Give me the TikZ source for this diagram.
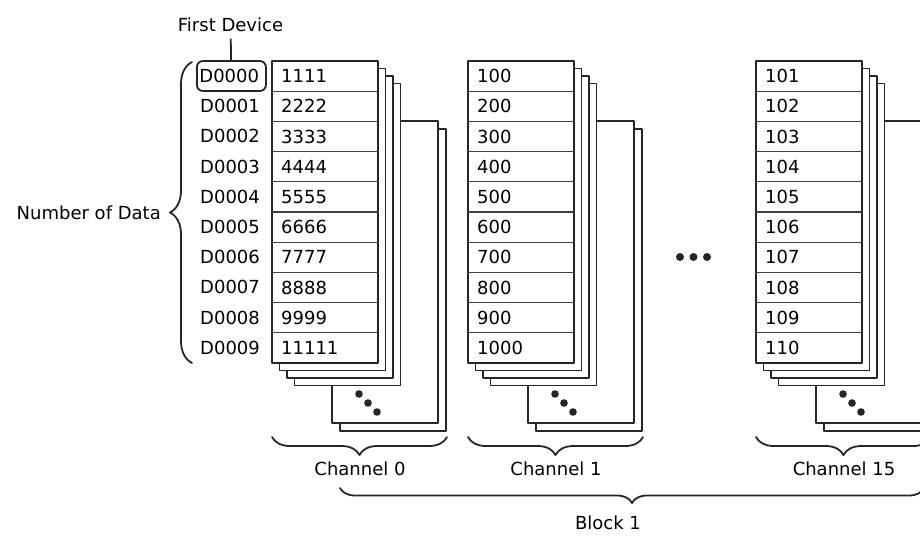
\documentclass[tikz,border=0pt]{standalone}
\usepackage{fontspec}
\setmainfont{DejaVu Sans}
\usetikzlibrary{decorations.pathreplacing}

\begin{document}
\begin{tikzpicture}[x=1pt, y=-1pt, line cap=round, line join=round,
  every node/.style={font=\fontsize{18}{21}\selectfont, inner sep=0pt},
  sheet/.style={draw=black!85, fill=white, line width=1.8pt},
  rowline/.style={draw=black!75, line width=1.1pt},
  devbox/.style={draw=black!85, line width=1.8pt, rounded corners=6pt, minimum height=30pt, text width=64pt, inner xsep=2.5pt},
  lead/.style={draw=black!85, line width=1.8pt},
  curly/.style={draw=black!85, line width=1.8pt, decorate, decoration={brace, amplitude=#1}}]
  \clip (0,0) rectangle (920,535);

  % three channels, each a stack of sheets with ten rows on the front one
  \foreach \cx/\vals in {272/{1111,2222,3333,4444,5555,6666,7777,8888,9999,11111},
                         468/{100,200,300,400,500,600,700,800,900,1000},
                         756/{101,102,103,104,105,106,107,108,109,110}} {
    \begin{scope}[shift={(\cx,61)}]
      \foreach \d in {68,60,22.5,15,7.5}
        \draw[sheet] (\d,\d) rectangle ++(106,302);
      \draw[sheet] (0,0) rectangle (106,302);
      \foreach \i in {1,...,9}
        \draw[rowline] (0,30.2*\i) -- (106,30.2*\i);
      \foreach \v [count=\i from 0] in \vals
        \node[anchor=west] (v\cx-\i) at (9,15.1+30.2*\i) {\v};
      \foreach \k in {0,1,2}
        \fill[black!85] (87+9*\k,333+9*\k) circle (3.8);
    \end{scope}
  }

  % device column
  \node[devbox, anchor=west] (d0) at (196,76) {D0000};
  \foreach \i in {1,...,9}
    \node[anchor=west] (d\i) at (200,76+30.2*\i) {D000\i};
  \node (firstdev) at (230.5,25) {First Device};
  \draw[lead, shorten <=7pt] (firstdev) -- (d0);

  \draw[curly=22] (192,363) -- (192,62);
  \node[anchor=east] (ndata) at (161,213) {Number of Data};

  % gap between channel 1 and channel 15
  \foreach \x [count=\j] in {680,693.5,707}
    \fill[black!85] (\x,257) circle (4);

  % channel and block braces
  \foreach \cx/\lbl in {272/0, 468/1, 756/15} {
    \draw[curly=18] (\cx+175,437) -- (\cx,437);
    \node (ch\lbl) at (\cx+88,469) {Channel \lbl};
  }
  \draw[curly=15] (924,488) -- (340,488);
  \node (block) at (608,523) {Block 1};
\end{tikzpicture}
\end{document}
